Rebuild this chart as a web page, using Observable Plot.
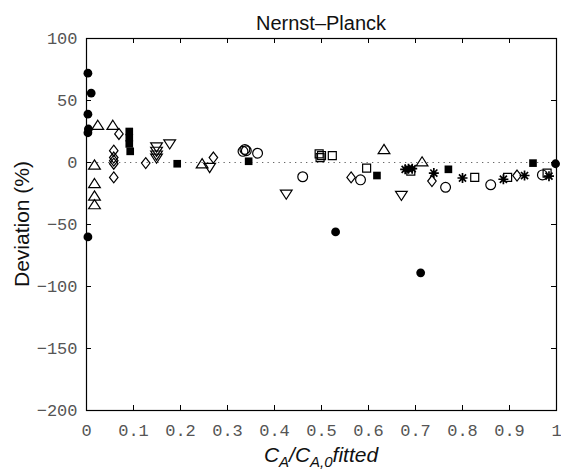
<!DOCTYPE html>
<html><head><meta charset="utf-8">
<script src="https://cdn.jsdelivr.net/npm/d3@7"></script>
<script src="https://cdn.jsdelivr.net/npm/@observablehq/plot@0.6"></script>
<style>body{margin:0;background:#fff}svg{display:block}</style>
</head><body><div id="chart"></div>
<script>
// ---- data ----
const filledCircleX = [0.003, 0.010, 0.003, 0.004, 0.003, 0.003, 0.530, 0.711, 0.998];
const filledCircleY = [72, 56, 39, 27, 24, -60, -56, -89, -1];
const upTriangleX = [0.024, 0.056, 0.017, 0.017, 0.017, 0.017, 0.246, 0.633, 0.714];
const upTriangleY = [30, 30, -2, -17, -27, -34, -1, 10.5, 0.5];
const diamondX = [0.069, 0.058, 0.058, 0.058, 0.058, 0.058, 0.126, 0.270, 0.563, 0.735, 0.916];
const diamondY = [23, 9.5, 4, 1.5, -1, -12, -0.5, 4, -12, -15, -10.5];
const downTriangleX = [0.149, 0.149, 0.149, 0.149, 0.177, 0.262, 0.425, 0.670];
const downTriangleY = [12.5, 9, 6, 3.5, 15, -4, -25.5, -26.5];
const filledSquareX = [0.091, 0.091, 0.091, 0.093, 0.193, 0.345, 0.618, 0.770, 0.950];
const filledSquareY = [25, 20, 15, 9, -1, 1, -10.5, -5.5, -0.5];
const openCircleX = [0.333, 0.337, 0.340, 0.364, 0.460, 0.583, 0.764, 0.860, 0.970];
const openCircleY = [9, 10.5, 9.5, 7.5, -11.5, -14, -20, -18, -10];
const openSquareX = [0.495, 0.500, 0.497, 0.523, 0.596, 0.690, 0.826, 0.896, 0.980];
const openSquareY = [7, 5.5, 4, 5.5, -4.5, -7, -12, -12, -8.5];
const asteriskX = [0.678, 0.685, 0.693, 0.739, 0.800, 0.887, 0.932, 0.984];
const asteriskY = [-5.5, -5, -5, -8.5, -12.5, -13.5, -10.5, -11];

const xTicks = [0, 0.1, 0.2, 0.3, 0.4, 0.5, 0.6, 0.7, 0.8, 0.9, 1];
const yTicks = [100, 50, 0, -50, -100, -150, -200];
const xTickLabels = ["0", "0.1", "0.2", "0.3", "0.4", "0.5", "0.6", "0.7", "0.8", "0.9", "1"];
const yTickLabels = ["100", "50", "0", "\u221250", "\u2212100", "\u2212150", "\u2212200"];
const titleText = "Nernst\u2013Planck";
const yLabelText = "Deviation (%)";

const pts = (xs, ys) => xs.map((x, i) => ({x, y: ys[i]}));

// ---- custom symbols ----
const rad = s => Math.sqrt(s / Math.PI);
const triUp = {draw(c, s) { const r = rad(s); c.moveTo(0, -r); c.lineTo(r * 1.15, r * 0.8); c.lineTo(-r * 1.15, r * 0.8); c.closePath(); }};
const triDown = {draw(c, s) { const r = rad(s); c.moveTo(0, r); c.lineTo(r * 1.15, -r * 0.8); c.lineTo(-r * 1.15, -r * 0.8); c.closePath(); }};
const diam = {draw(c, s) { const r = rad(s); c.moveTo(0, -r * 1.1); c.lineTo(r * 0.85, 0); c.lineTo(0, r * 1.1); c.lineTo(-r * 0.85, 0); c.closePath(); }};
const sq = {draw(c, s) { const r = rad(s) * 0.85; c.moveTo(-r, -r); c.lineTo(r, -r); c.lineTo(r, r); c.lineTo(-r, r); c.closePath(); }};
const star8 = {draw(c, s) { const r = rad(s); for (let k = 0; k < 4; k++) { const a = k * Math.PI / 4; c.moveTo(-r * Math.cos(a), -r * Math.sin(a)); c.lineTo(r * Math.cos(a), r * Math.sin(a)); } }};

const yTickFmt = d => yTickLabels[yTicks.indexOf(d)];
const xTickFmt = d => xTickLabels[xTicks.indexOf(d)];

const W = 561, H = 470, ML = 86, MR = 5, MT = 38, MB = 60;
const innerW = W - ML - MR, innerH = H - MT - MB, TK = 5;

const plot = Plot.plot({
  width: W,
  height: H,
  marginLeft: ML,
  marginRight: MR,
  marginTop: MT,
  marginBottom: MB,
  style: {background: "#fff", overflow: "visible"},
  x: {domain: [0, 1], label: null},
  y: {domain: [-200, 100], label: null},
  marks: [
    Plot.ruleY([0], {stroke: "#666", strokeDasharray: "1.3 4.2", strokeWidth: 1.2}),
    Plot.axisX(xTicks, {anchor: "bottom", tickSize: 0, tickPadding: 13, tickFormat: xTickFmt, fontSize: 17, fontFamily: "Liberation Mono", fill: "#555", label: null}),
    Plot.axisY(yTicks, {anchor: "left", tickSize: 0, tickPadding: 9, tickFormat: yTickFmt, fontSize: 17, fontFamily: "Liberation Mono", fill: "#555", label: null}),
    // inward ticks on all four sides
    Plot.ruleX(xTicks, {x: d => d, insetTop: innerH - TK, stroke: "#000"}),
    Plot.ruleX(xTicks, {x: d => d, insetBottom: innerH - TK, stroke: "#000"}),
    Plot.ruleY(yTicks, {y: d => d, insetRight: innerW - TK, stroke: "#000"}),
    Plot.ruleY(yTicks, {y: d => d, insetLeft: innerW - TK, stroke: "#000"}),
    Plot.frame({stroke: "#000", strokeWidth: 1.2}),
    Plot.dot(pts(openCircleX, openCircleY), {x: "x", y: "y", r: 4.9, symbol: "circle", fill: "none", stroke: "#000", strokeWidth: 1.2}),
    Plot.dot(pts(upTriangleX, upTriangleY), {x: "x", y: "y", r: 5.1, symbol: triUp, fill: "none", stroke: "#000", strokeWidth: 1.2}),
    Plot.dot(pts(downTriangleX, downTriangleY), {x: "x", y: "y", r: 5.1, symbol: triDown, fill: "none", stroke: "#000", strokeWidth: 1.2}),
    Plot.dot(pts(diamondX, diamondY), {x: "x", y: "y", r: 5.0, symbol: diam, fill: "none", stroke: "#000", strokeWidth: 1.2}),
    Plot.dot(pts(openSquareX, openSquareY), {x: "x", y: "y", r: 4.7, symbol: sq, fill: "none", stroke: "#000", strokeWidth: 1.2}),
    Plot.dot(pts(asteriskX, asteriskY), {x: "x", y: "y", r: 5.0, symbol: star8, fill: "none", stroke: "#000", strokeWidth: 1.7}),
    Plot.dot(pts(filledSquareX, filledSquareY), {x: "x", y: "y", r: 4.5, symbol: sq, fill: "#000", stroke: "none"}),
    Plot.dot(pts(filledCircleX, filledCircleY), {x: "x", y: "y", r: 4.4, symbol: "circle", fill: "#000", stroke: "none"})
  ]
});

const svg = d3.select(plot);
const cx = ML + innerW / 2;
svg.append("text").attr("x", cx).attr("y", 30).attr("text-anchor", "middle")
  .attr("font-family", "Liberation Sans, Arial, sans-serif").attr("font-size", 20).attr("fill", "#111").text(titleText);
svg.append("text").attr("transform", `translate(29,${MT + innerH / 2}) rotate(-90)`).attr("text-anchor", "middle")
  .attr("font-family", "Liberation Sans, Arial, sans-serif").attr("font-size", 21).attr("fill", "#111").text(yLabelText);
const xl = svg.append("text").attr("x", cx).attr("y", 462).attr("text-anchor", "middle")
  .attr("font-family", "Liberation Sans, Arial, sans-serif").attr("font-size", 21).attr("font-style", "italic").attr("fill", "#111");
xl.append("tspan").text("C");
xl.append("tspan").attr("font-size", 15).attr("dy", 5).text("A");
xl.append("tspan").attr("dy", -5).text("/C");
xl.append("tspan").attr("font-size", 15).attr("dy", 5).text("A,0");
xl.append("tspan").attr("dy", -5).text("fitted");

document.getElementById("chart").appendChild(plot);
</script>
</body></html>
